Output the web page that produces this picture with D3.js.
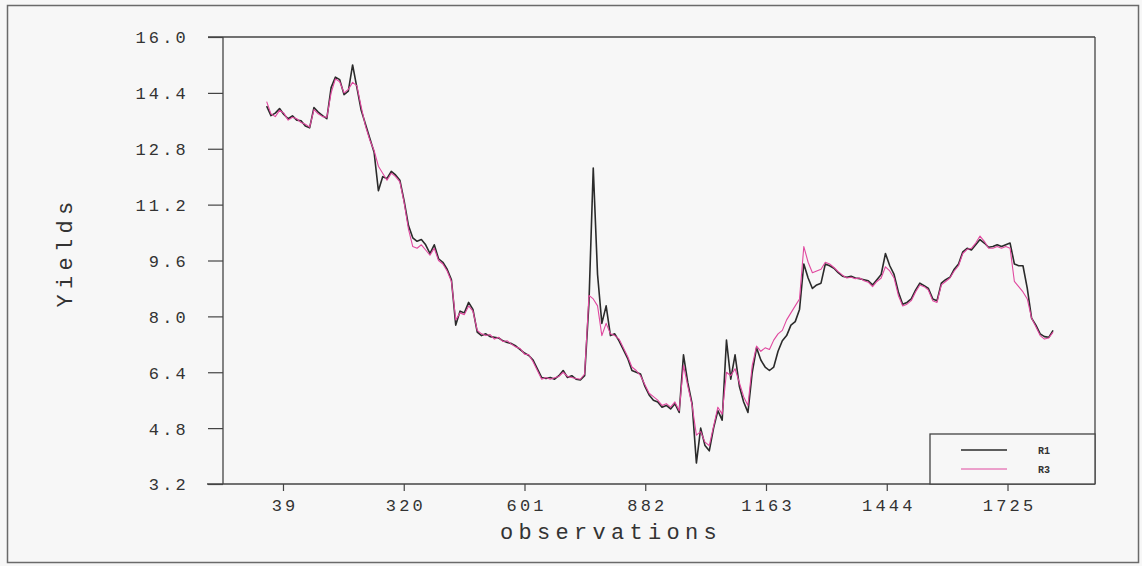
<!DOCTYPE html>
<html>
<head>
<meta charset="utf-8">
<script src="https://cdn.jsdelivr.net/npm/d3@7"></script>
<style>
  html, body { margin: 0; padding: 0; background: #f7f7f7; }
  svg { display: block; }
  text { font-family: "Liberation Mono", "DejaVu Sans Mono", monospace; fill: #333; }
</style>
</head>
<body>
<svg id="chart" width="1142" height="566"></svg>
<script>
// Yield series sampled every 10 observations, starting at observation 1
const obsStart = 1;
const obsStep = 10;

const r1 = [
  14.02, 13.75, 13.82, 13.95, 13.78, 13.66, 13.74, 13.62, 13.60, 13.45,
  13.40, 13.98, 13.85, 13.75, 13.66, 14.55, 14.85, 14.78, 14.35, 14.45,
  15.20, 14.55, 13.90, 13.50, 13.10, 12.70, 11.60, 12.00, 11.95, 12.15,
  12.05, 11.90, 11.30, 10.60, 10.25, 10.15, 10.20, 10.05, 9.80, 10.05,
  9.65, 9.55, 9.35, 9.05, 7.75, 8.15, 8.10, 8.40, 8.20, 7.55,
  7.45, 7.50, 7.42, 7.40, 7.38, 7.30, 7.25, 7.22, 7.15, 7.05,
  6.95, 6.88, 6.75, 6.50, 6.25, 6.22, 6.25, 6.20, 6.30, 6.45,
  6.25, 6.30, 6.20, 6.18, 6.30, 8.40, 12.25, 9.20, 7.80, 8.30,
  7.45, 7.50, 7.30, 7.05, 6.80, 6.45, 6.40, 6.35, 6.00, 5.75,
  5.60, 5.55, 5.40, 5.45, 5.35, 5.50, 5.25, 6.90, 6.10, 5.50,
  3.80, 4.80, 4.30, 4.15, 4.80, 5.30, 5.03, 7.32, 6.20, 6.90,
  6.00, 5.55, 5.25, 6.40, 7.10, 6.75, 6.55, 6.45, 6.55, 7.00,
  7.30, 7.45, 7.75, 7.85, 8.20, 9.50, 9.10, 8.80, 8.90, 8.95,
  9.50, 9.45, 9.38, 9.25, 9.15, 9.12, 9.15, 9.10, 9.08, 9.05,
  9.02, 8.90, 9.05, 9.20, 9.80, 9.45, 9.20, 8.70, 8.35, 8.40,
  8.50, 8.75, 8.95, 8.88, 8.80, 8.50, 8.45, 8.95, 9.05, 9.12,
  9.35, 9.50, 9.85, 9.95, 9.90, 10.05, 10.20, 10.10, 9.98, 10.00,
  10.05, 10.00, 10.05, 10.10, 9.50, 9.45, 9.45, 8.80, 7.95, 7.75,
  7.50, 7.42, 7.40, 7.60
];

const r3 = [
  14.15, 13.80, 13.72, 13.90, 13.82, 13.62, 13.70, 13.66, 13.55, 13.50,
  13.42, 13.92, 13.80, 13.72, 13.70, 14.40, 14.80, 14.72, 14.40, 14.50,
  14.70, 14.60, 14.00, 13.45, 13.05, 12.75, 12.30, 12.10, 11.90, 12.10,
  12.00, 11.85, 11.25, 10.50, 10.00, 9.95, 10.05, 9.90, 9.75, 9.95,
  9.60, 9.50, 9.30, 9.00, 7.90, 8.10, 8.05, 8.30, 8.15, 7.60,
  7.50, 7.45, 7.48, 7.35, 7.40, 7.28, 7.30, 7.20, 7.12, 7.08,
  6.92, 6.90, 6.70, 6.45, 6.20, 6.25, 6.20, 6.24, 6.28, 6.40,
  6.28, 6.25, 6.22, 6.20, 6.35, 8.60, 8.50, 8.30, 7.45, 7.80,
  7.50, 7.45, 7.35, 7.10, 6.85, 6.55, 6.45, 6.30, 6.05, 5.80,
  5.70, 5.60, 5.45, 5.50, 5.40, 5.55, 5.30, 6.60, 6.00, 5.45,
  4.60, 4.70, 4.40, 4.30, 4.85, 5.40, 5.20, 6.40, 6.30, 6.50,
  6.10, 5.70, 5.45, 6.60, 7.15, 7.00, 7.10, 7.05, 7.32, 7.50,
  7.60, 7.90, 8.10, 8.30, 8.50, 10.00, 9.55, 9.25, 9.30, 9.35,
  9.55, 9.50, 9.40, 9.28, 9.18, 9.10, 9.12, 9.08, 9.10, 9.02,
  8.98, 8.85, 9.00, 9.10, 9.42, 9.30, 9.10, 8.60, 8.30, 8.35,
  8.45, 8.70, 8.90, 8.85, 8.75, 8.45, 8.40, 8.90, 9.00, 9.10,
  9.30, 9.45, 9.80, 9.92, 9.95, 10.10, 10.30, 10.15, 9.95, 9.95,
  10.00, 9.95, 10.00, 9.95, 9.00, 8.85, 8.70, 8.50, 7.95, 7.70,
  7.45, 7.35, 7.38, 7.55
];

const xTicks = [39, 320, 601, 882, 1163, 1444, 1725];
const yTicks = [3.2, 4.8, 6.4, 8.0, 9.6, 11.2, 12.8, 14.4, 16.0];
const seriesNames = ["R1", "R3"];
const seriesColors = ["#2b2b2b", "#e0489f"];

const svg = d3.select("#chart");

// outer frame
svg.append("rect")
  .attr("x", 7.5).attr("y", 5.5).attr("width", 1131).attr("height", 557)
  .attr("fill", "#f7f7f7").attr("stroke", "#6a6a6a").attr("stroke-width", 1.5);

const plot = { left: 223, right: 1095, top: 37, bottom: 484 };

const x = d3.scaleLinear().domain([-100.6, 1928.6]).range([plot.left, plot.right]);
const y = d3.scaleLinear().domain([3.2, 16.0]).range([plot.bottom, plot.top]);

// axes
const yAxis = d3.axisLeft(y).tickValues(yTicks).tickSize(15).tickPadding(19)
  .tickFormat(d3.format(".1f"));
const xAxis = d3.axisBottom(x).tickValues(xTicks).tickSize(7).tickPadding(8)
  .tickFormat(d3.format("d"));

const gy = svg.append("g").attr("transform", `translate(${plot.left},0)`).call(yAxis);
const gx = svg.append("g").attr("transform", `translate(0,${plot.bottom})`).call(xAxis);

[gx, gy].forEach(g => {
  g.select(".domain").remove();
  g.selectAll(".tick line").attr("stroke", "#444").attr("stroke-width", 1.2);
  g.selectAll(".tick text")
    .style("font-family", '"Liberation Mono", monospace')
    .style("font-size", "17px")
    .style("letter-spacing", "3.2px")
    .attr("fill", "#333");
});
gx.selectAll(".tick text").attr("dx", "1.6px");
gy.selectAll(".tick text").attr("dy", "0.35em");

// plot frame (top and bottom lines reach out to the y tick marks)
const frame = svg.append("g").attr("stroke", "#444").attr("stroke-width", 1.3).attr("fill", "none");
frame.append("line").attr("x1", 208).attr("x2", plot.right).attr("y1", plot.top).attr("y2", plot.top);
frame.append("line").attr("x1", 207).attr("x2", plot.right).attr("y1", plot.bottom).attr("y2", plot.bottom);
frame.append("line").attr("x1", plot.left).attr("x2", plot.left).attr("y1", plot.top).attr("y2", plot.bottom);
frame.append("line").attr("x1", plot.right).attr("x2", plot.right).attr("y1", plot.top).attr("y2", plot.bottom);

// series
const line = d3.line()
  .x((d, i) => x(obsStart + i * obsStep))
  .y(d => y(d));

[r1, r3].forEach((s, k) => {
  svg.append("path")
    .datum(s)
    .attr("fill", "none")
    .attr("stroke", seriesColors[k])
    .attr("stroke-width", k === 0 ? 1.6 : 1.1)
    .attr("stroke-linejoin", "round")
    .attr("d", line);
});

// axis titles
svg.append("text")
  .attr("x", 611).attr("y", 539)
  .attr("text-anchor", "middle")
  .style("font-size", "22px").style("letter-spacing", "5.3px")
  .text("observations");

svg.append("text")
  .attr("transform", "translate(72,252) rotate(-90)")
  .attr("text-anchor", "middle")
  .style("font-size", "22px").style("letter-spacing", "5.3px")
  .text("Yields");

// legend
const lg = svg.append("g");
lg.append("rect")
  .attr("x", 930).attr("y", 434).attr("width", 165).attr("height", 50)
  .attr("fill", "#f7f7f7").attr("stroke", "#444").attr("stroke-width", 1.3);
seriesNames.forEach((name, k) => {
  const yy = 450 + k * 19;
  lg.append("line")
    .attr("x1", 961).attr("x2", 1007).attr("y1", yy).attr("y2", yy)
    .attr("stroke", seriesColors[k]).attr("stroke-width", k === 0 ? 1.4 : 1.0);
  lg.append("text")
    .attr("x", 1038).attr("y", yy).attr("dy", "0.35em")
    .style("font-size", "10px").style("font-weight", "bold")
    .text(name);
});
</script>
</body>
</html>
